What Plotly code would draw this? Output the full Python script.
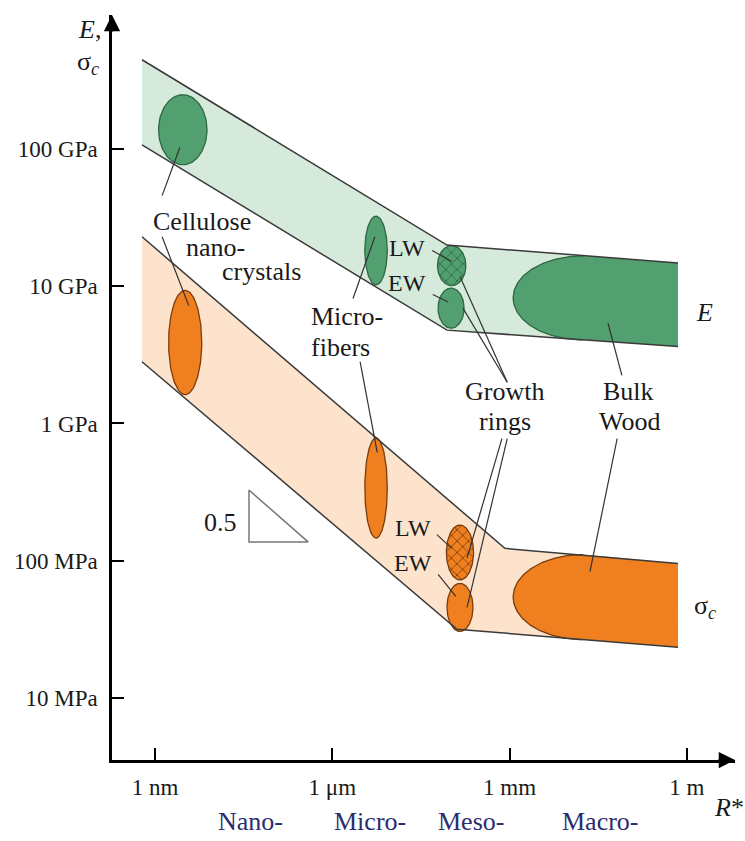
import numpy as np
import plotly.graph_objects as go

# Axes are in decades: x = log10(R*/m), y = log10(E or sigma_c / Pa)
x_ticks = [-9, -6, -3, 0]
x_tick_labels = ["1 nm", "1 μm", "1 mm", "1 m"]
y_ticks = [7, 8, 9, 10, 11]
y_tick_labels = ["10 MPa", "100 MPa", "1 GPa", "10 GPa", "100 GPa"]

# Stiffness (E) band
E_upper_x = [-9.22, -4.06, -0.15]
E_upper_y = [11.65, 10.30, 10.17]
E_lower_x = [-9.22, -4.06, -0.15]
E_lower_y = [11.03, 9.68, 9.56]

# Strength (sigma_c) band
S_upper_x = [-9.22, -3.08, -0.15]
S_upper_y = [10.36, 8.09, 7.98]
S_lower_x = [-9.22, -3.89, -0.15]
S_lower_y = [9.45, 7.50, 7.37]

# Ellipses: name, centre x, centre y, half-width (decades), half-height (decades)
E_ell_names = ["nanocrystals", "microfibers", "LW", "EW"]
E_ell_cx = [-8.53, -5.26, -3.98, -3.99]
E_ell_cy = [11.14, 10.26, 10.15, 9.84]
E_ell_rx = [0.41, 0.19, 0.24, 0.22]
E_ell_ry = [0.255, 0.25, 0.146, 0.146]

S_ell_names = ["nanocrystals", "microfibers", "LW", "EW"]
S_ell_cx = [-8.49, -5.26, -3.84, -3.84]
S_ell_cy = [9.59, 8.53, 8.06, 7.66]
S_ell_rx = [0.28, 0.19, 0.23, 0.22]
S_ell_ry = [0.38, 0.365, 0.20, 0.175]

# Bulk wood regions (left half-ellipse merged into band to its right end)
bulk_cx = [-1.76, -1.76]
bulk_cy = [9.915, 7.735]
bulk_rx = [1.18, 1.18]
bulk_ry = [0.306, 0.31]

# Leader lines: (x0, y0, x1, y1)
leaders = [
    (-8.88, 10.66, -8.58, 11.01),
    (-8.88, 10.36, -8.43, 9.86),
    (-5.65, 9.91, -5.28, 10.36),
    (-5.53, 9.45, -5.24, 8.79),
    (-4.31, 10.26, -3.98, 10.18),
    (-4.30, 9.94, -4.04, 9.885),
    (-4.23, 8.19, -3.98, 8.09),
    (-4.21, 7.90, -3.91, 7.74),
    (-3.04, 9.30, -3.84, 10.07),
    (-3.04, 9.30, -3.79, 9.84),
    (-3.13, 8.89, -3.72, 8.02),
    (-3.04, 8.89, -3.72, 7.66),
    (-1.10, 9.35, -1.335, 9.73),
    (-1.18, 8.89, -1.64, 7.92),
]

# Slope triangle
tri_x = [-7.41, -7.41, -6.41, -7.41]
tri_y = [8.515, 8.137, 8.137, 8.515]

# Text labels: text, x, y, size
labels = [
    ("Cellulose", -8.205, 10.468, 26),
    ("nano-", -7.985, 10.285, 26),
    ("crystals", -7.206, 10.104, 26),
    ("Micro-", -5.751, 9.776, 26),
    ("fibers", -5.870, 9.550, 26),
    ("LW", -4.736, 10.279, 24),
    ("EW", -4.736, 10.024, 24),
    ("LW", -4.635, 8.239, 24),
    ("EW", -4.635, 7.984, 24),
    ("Growth", -3.078, 9.230, 26),
    ("rings", -3.078, 9.011, 26),
    ("Bulk", -0.980, 9.230, 26),
    ("Wood", -0.965, 9.011, 26),
    ("<i>E</i>", 0.306, 9.812, 26),
    ("σ<sub><i>c</i></sub>", 0.306, 7.663, 26),
    ("0.5", -7.90, 8.282, 26),
]

scale_names = ["Nano-", "Micro-", "Meso-", "Macro-"]
scale_x = [-7.39, -5.36, -3.65, -1.47]

GREEN_BAND = "#d5eadb"
GREEN = "#52a06f"
GREEN_DARK = "#2e6843"
ORANGE_BAND = "#fde3cc"
ORANGE = "#f0801f"
ORANGE_DARK = "#7a3c0c"
LINE = "#3a3a3a"
FONT = "Liberation Serif, Times New Roman, serif"
TXT = "#1a1a1a"


def ellipse(cx, cy, rx, ry, t0=0.0, t1=2 * np.pi, n=120):
    t = np.linspace(t0, t1, n)
    return cx + rx * np.cos(t), cy + ry * np.sin(t)


fig = go.Figure()

# bands
for ux, uy, lx, ly, col in [
    (E_upper_x, E_upper_y, E_lower_x, E_lower_y, GREEN_BAND),
    (S_upper_x, S_upper_y, S_lower_x, S_lower_y, ORANGE_BAND),
]:
    fig.add_trace(go.Scatter(
        x=list(ux) + list(lx)[::-1], y=list(uy) + list(ly)[::-1],
        fill="toself", fillcolor=col, mode="none", hoverinfo="skip"))

# bulk wood
for i, (ux, uy, lx, ly, col, dark) in enumerate([
    (E_upper_x, E_upper_y, E_lower_x, E_lower_y, GREEN, GREEN_DARK),
    (S_upper_x, S_upper_y, S_lower_x, S_lower_y, ORANGE, ORANGE_DARK),
]):
    ax_, ay_ = ellipse(bulk_cx[i], bulk_cy[i], bulk_rx[i], bulk_ry[i],
                       np.pi / 2, 3 * np.pi / 2)
    px = list(ax_) + [lx[-1], ux[-1]]
    py = list(ay_) + [ly[-1], uy[-1]]
    fig.add_trace(go.Scatter(x=px, y=py, fill="toself", fillcolor=col,
                             mode="none", hoverinfo="skip"))
    fig.add_trace(go.Scatter(x=ax_, y=ay_, mode="lines",
                             line=dict(color=dark, width=1.3), hoverinfo="skip"))

# ellipses
for cxs, cys, rxs, rys, names, col, dark in [
    (E_ell_cx, E_ell_cy, E_ell_rx, E_ell_ry, E_ell_names, GREEN, GREEN_DARK),
    (S_ell_cx, S_ell_cy, S_ell_rx, S_ell_ry, S_ell_names, ORANGE, ORANGE_DARK),
]:
    for cx, cy, rx, ry, nm in zip(cxs, cys, rxs, rys, names):
        ex, ey = ellipse(cx, cy, rx, ry)
        kw = {}
        if nm == "LW":
            kw["fillpattern"] = dict(shape="x", fgcolor=dark, bgcolor=col,
                                     size=8, solidity=0.2, fillmode="replace")
        fig.add_trace(go.Scatter(x=ex, y=ey, fill="toself", fillcolor=col,
                                 mode="lines", line=dict(color=dark, width=1.3),
                                 hoverinfo="skip", **kw))

# band edges
for xs, ys in [(E_upper_x, E_upper_y), (E_lower_x, E_lower_y),
               (S_upper_x, S_upper_y), (S_lower_x, S_lower_y)]:
    fig.add_trace(go.Scatter(x=xs, y=ys, mode="lines",
                             line=dict(color=LINE, width=1.5), hoverinfo="skip"))

# leader lines
for x0, y0, x1, y1 in leaders:
    fig.add_trace(go.Scatter(x=[x0, x1], y=[y0, y1], mode="lines",
                             line=dict(color="#333333", width=1.2), hoverinfo="skip"))

# slope triangle
fig.add_trace(go.Scatter(x=tri_x, y=tri_y, mode="lines",
                         line=dict(color="#777777", width=1.5), hoverinfo="skip"))

annotations = []
for txt, x, y, s in labels:
    annotations.append(dict(text=txt, x=x, y=y, xref="x", yref="y",
                            xanchor="center", yanchor="middle", showarrow=False,
                            font=dict(family=FONT, size=s, color=TXT)))
for txt, x in zip(scale_names, scale_x):
    annotations.append(dict(text=txt, x=x, y=-0.083, xref="x", yref="paper",
                            xanchor="center", yanchor="middle", showarrow=False,
                            font=dict(family=FONT, size=26, color="#2c2c6e")))
annotations += [
    dict(text="<i>E</i>,", x=-0.036, y=0.980, xref="paper", yref="paper",
         xanchor="center", yanchor="middle", showarrow=False,
         font=dict(family=FONT, size=26, color=TXT)),
    dict(text="σ<sub><i>c</i></sub>", x=-0.038, y=0.935, xref="paper", yref="paper",
         xanchor="center", yanchor="middle", showarrow=False,
         font=dict(family=FONT, size=26, color=TXT)),
    dict(text="<i>R</i>*", x=0.99, y=-0.064, xref="paper", yref="paper",
         xanchor="center", yanchor="middle", showarrow=False,
         font=dict(family=FONT, size=26, color=TXT)),
    # axis arrowheads
    dict(x=1, y=0, xref="paper", yref="paper", ax=-18, ay=0, showarrow=True,
         arrowhead=2, arrowsize=1.3, arrowwidth=2.5, arrowcolor="black", text=""),
    dict(x=0, y=1, xref="paper", yref="paper", ax=0, ay=18, showarrow=True,
         arrowhead=2, arrowsize=1.3, arrowwidth=2.5, arrowcolor="black", text=""),
]

fig.update_layout(
    width=745, height=841,
    margin=dict(l=112, r=10, t=15, b=81),
    paper_bgcolor="white", plot_bgcolor="white",
    showlegend=False,
    font=dict(family=FONT),
    annotations=annotations,
    xaxis=dict(range=[-9.728, 0.814], tickvals=x_ticks, ticktext=x_tick_labels,
               showgrid=False, zeroline=False, showline=True, linecolor="black",
               linewidth=2.5, ticks="inside", ticklen=12, tickwidth=2,
               tickcolor="black", ticklabelstandoff=5,
               tickfont=dict(family=FONT, size=23, color=TXT)),
    yaxis=dict(range=[6.548, 11.976], tickvals=y_ticks, ticktext=y_tick_labels,
               showgrid=False, zeroline=False, showline=True, linecolor="black",
               linewidth=2.5, ticks="inside", ticklen=12, tickwidth=2,
               tickcolor="black", ticklabelstandoff=7,
               tickfont=dict(family=FONT, size=23, color=TXT)),
)

fig.write_html("out.html")
